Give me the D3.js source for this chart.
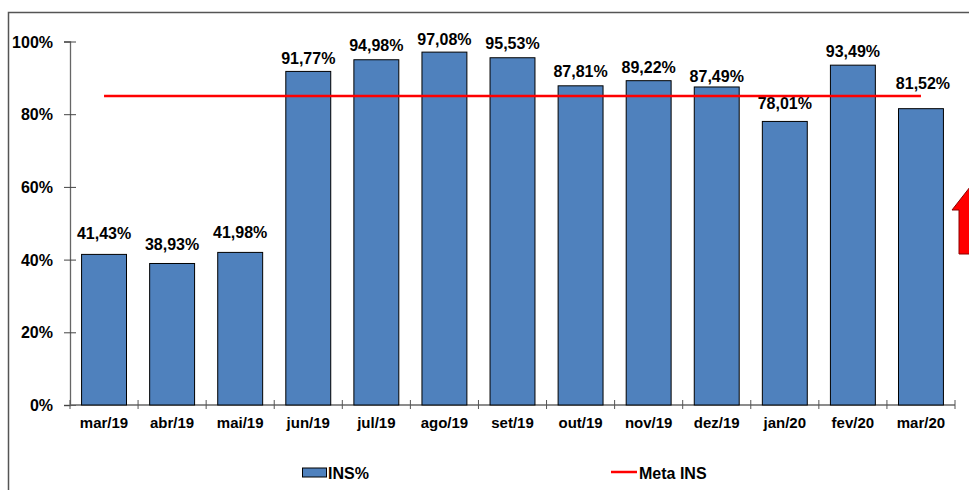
<!DOCTYPE html>
<html>
<head>
<meta charset="utf-8">
<script src="https://cdn.jsdelivr.net/npm/d3@7.9.0/dist/d3.min.js"></script>
<style>
  body { margin: 0; background: #fff; }
  svg text { font-family: "Liberation Sans", Arial, sans-serif; font-weight: bold; fill: #000; }
</style>
</head>
<body>
<script>
// ─── DATA ─────────────────────────────────────────────────────────────
const months = ['mar/19','abr/19','mai/19','jun/19','jul/19','ago/19','set/19',
                'out/19','nov/19','dez/19','jan/20','fev/20','mar/20'];
const insPct = [41.43, 38.93, 41.98, 91.77, 94.98, 97.08, 95.53,
                87.81, 89.22, 87.49, 78.01, 93.49, 81.52];
const metaIns = 85;
const yTicks = [0, 20, 40, 60, 80, 100];

// ─── LAYOUT ───────────────────────────────────────────────────────────
const W = 969, H = 490;
const M = { top: 41.5, left: 70, right: 14, bottom: 85 };
// labels were hand-placed in the original: gap (px) above each bar
const labelGap = [15.5, 13, 14, 7, 8.7, 7, 9, 9, 7.4, 5.3, 12, 7.7, 20];

const svg = d3.select('body').append('svg')
  .attr('width', W).attr('height', H);

// outer frame (only top/left visible)
svg.append('path')
  .attr('d', `M8.5,${H} V12.5 H${W}`)
  .attr('fill', 'none')
  .attr('stroke', '#555')
  .attr('stroke-width', 1.5);

const x = d3.scaleBand()
  .domain(months)
  .range([M.left, W - M.right])
  .paddingInner(0.34)
  .paddingOuter(0.17);

const y = d3.scaleLinear()
  .domain([0, 100])
  .range([405, M.top]);

// y axis
const yAxis = svg.append('g')
  .attr('transform', `translate(${M.left},0)`)
  .call(d3.axisLeft(y).tickValues(yTicks).tickFormat(d => d + '%').tickSizeOuter(0).tickSize(6));
yAxis.select('.domain').attr('stroke', '#666').attr('stroke-width', 1.3);
yAxis.selectAll('.tick line').attr('stroke', '#444').attr('x2', 6).attr('x1', -6);
yAxis.selectAll('.tick text').attr('x', -17).attr('dy', '0.35em').style('font-size', '16px');

// x axis: ticks at band boundaries
const step = x.step();
const xAxis = svg.append('g')
  .attr('transform', `translate(0,${y(0)})`);
xAxis.append('line')
  .attr('x1', M.left).attr('x2', W - M.right)
  .attr('stroke', '#666').attr('stroke-width', 1.3);
d3.range(months.length + 1).forEach(i => {
  const xx = M.left + i * step;
  xAxis.append('line')
    .attr('x1', xx).attr('x2', xx)
    .attr('y1', -5).attr('y2', 4)
    .attr('stroke', '#555');
});
xAxis.selectAll('text.xl')
  .data(months)
  .join('text')
    .attr('class', 'xl')
    .attr('x', d => x(d) + x.bandwidth() / 2)
    .attr('y', 23)
    .attr('text-anchor', 'middle')
    .style('font-size', '15px')
    .text(d => d);

// bars
svg.selectAll('rect.bar')
  .data(insPct)
  .join('rect')
    .attr('class', 'bar')
    .attr('x', (d, i) => x(months[i]))
    .attr('y', d => y(d))
    .attr('width', x.bandwidth())
    .attr('height', d => y(0) - y(d))
    .attr('fill', '#4f81bd')
    .attr('stroke', '#000')
    .attr('stroke-width', 1);

// value labels
svg.selectAll('text.val')
  .data(insPct)
  .join('text')
    .attr('class', 'val')
    .attr('x', (d, i) => x(months[i]) + x.bandwidth() / 2 + (i === months.length - 1 ? 2 : 0))
    .attr('y', (d, i) => y(d) - labelGap[i])
    .attr('text-anchor', 'middle')
    .style('font-size', '16px')
    .text(d => d.toFixed(2).replace('.', ',') + '%');

// meta line
svg.append('line')
  .attr('x1', x(months[0]) + x.bandwidth() / 2)
  .attr('x2', x(months[months.length - 1]) + x.bandwidth() / 2)
  .attr('y1', y(metaIns)).attr('y2', y(metaIns))
  .attr('stroke', '#ff0000')
  .attr('stroke-width', 2.5);

// red arrow at right edge
svg.append('path')
  .attr('d', 'M970,187 L988,210 L981,210 L981,254 L959,254 L959,210 L952,210 Z')
  .attr('fill', '#ff0000')
  .attr('stroke', '#8b0000')
  .attr('stroke-width', 1);

// legend
const leg = svg.append('g');
leg.append('rect')
  .attr('x', 302.5).attr('y', 468)
  .attr('width', 24).attr('height', 9)
  .attr('fill', '#4f81bd').attr('stroke', '#000');
leg.append('text')
  .attr('x', 328).attr('y', 479)
  .style('font-size', '16px')
  .text('INS%');
leg.append('line')
  .attr('x1', 611).attr('x2', 637)
  .attr('y1', 472).attr('y2', 472)
  .attr('stroke', '#ff0000').attr('stroke-width', 2.5);
leg.append('text')
  .attr('x', 639).attr('y', 479)
  .style('font-size', '16px')
  .text('Meta INS');
</script>
</body>
</html>
